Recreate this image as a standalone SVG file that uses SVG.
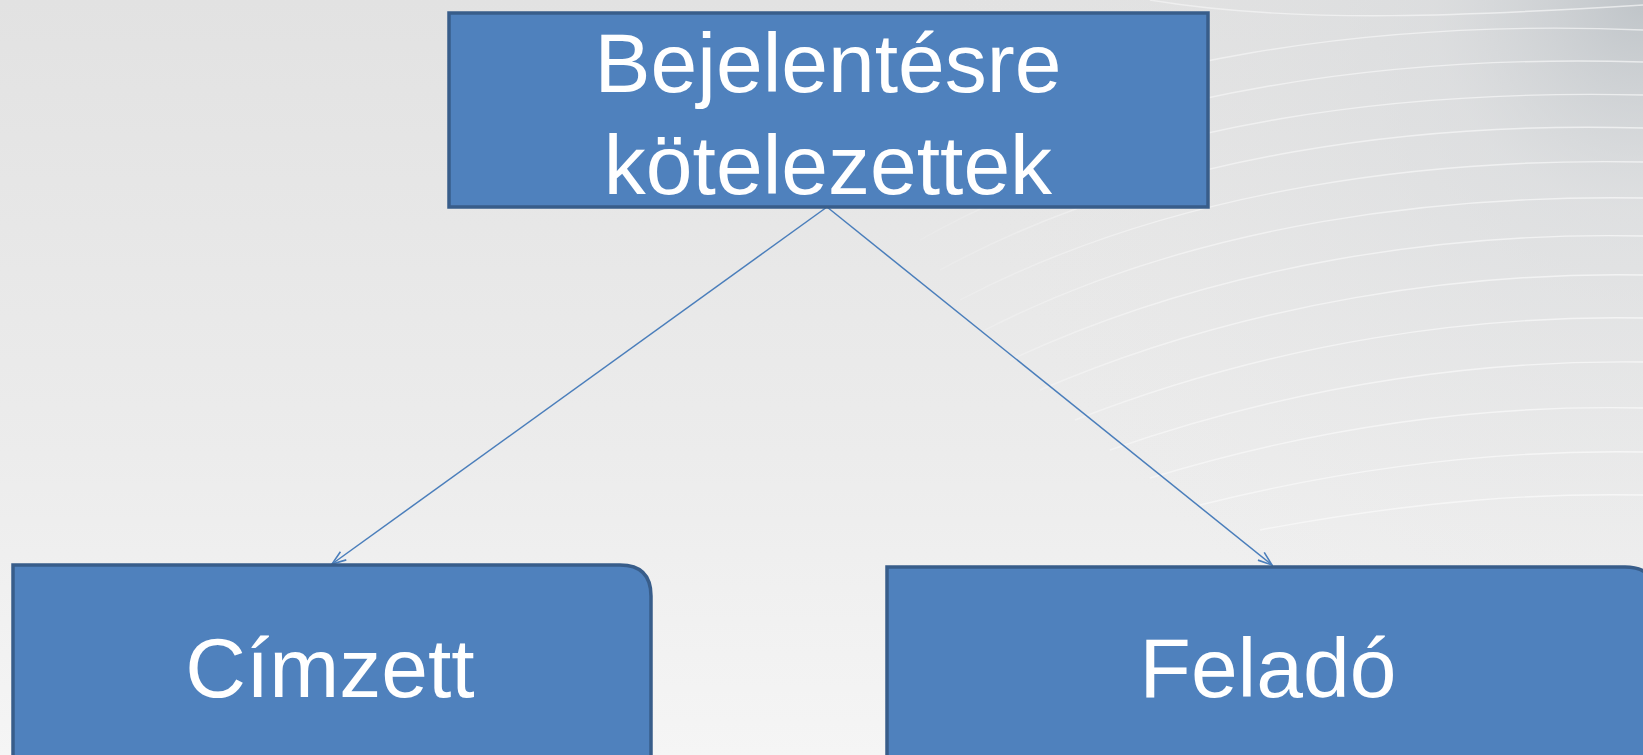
<svg xmlns="http://www.w3.org/2000/svg" width="1643" height="755" viewBox="0 0 1643 755">
<style>
.box{fill:#4f81bd;stroke:#385d8a;stroke-width:3.5}
.lbl{fill:#ffffff;font-family:"Liberation Sans",Arial,sans-serif;font-size:84px;text-anchor:middle}
.conn{fill:none;stroke:#4a7ebb;stroke-width:1.5}
.swirl{fill:none;stroke:url(#swirlfade);stroke-width:1.4}
</style>
<defs>
<linearGradient id="bg" x1="0" y1="0" x2="0" y2="1">
<stop offset="0" stop-color="#e2e2e2"/>
<stop offset="0.6" stop-color="#ececec"/>
<stop offset="1" stop-color="#f5f5f5"/>
</linearGradient>
<radialGradient id="corner" cx="1643" cy="0" r="700" gradientUnits="userSpaceOnUse">
<stop offset="0" stop-color="#b9bfc4" stop-opacity="0.85"/>
<stop offset="0.3" stop-color="#d4d7da" stop-opacity="0.45"/>
<stop offset="1" stop-color="#e6e6e6" stop-opacity="0"/>
</radialGradient>
<linearGradient id="swirlfade" x1="850" y1="0" x2="1643" y2="0" gradientUnits="userSpaceOnUse">
<stop offset="0" stop-color="#ffffff" stop-opacity="0"/>
<stop offset="0.4" stop-color="#ffffff" stop-opacity="0.45"/>
<stop offset="1" stop-color="#ffffff" stop-opacity="0.6"/>
</linearGradient>
<marker id="arr" viewBox="0 0 16 12" refX="15" refY="6" markerWidth="16" markerHeight="12" markerUnits="userSpaceOnUse" orient="auto">
<path d="M1,1 L15,6 L1,11" fill="none" stroke="#4a7ebb" stroke-width="1.6"/>
</marker>
</defs>
<rect x="0" y="0" width="1643" height="755" fill="url(#bg)"/>
<rect x="0" y="0" width="1643" height="755" fill="url(#corner)"/>
<g id="background-swirls">
<path class="swirl" d="M880,180 C1100,50 1400,20 1643,30"/>
<path class="swirl" d="M900,210 C1120,85 1410,55 1643,62"/>
<path class="swirl" d="M920,240 C1140,115 1420,90 1643,95"/>
<path class="swirl" d="M940,270 C1160,150 1430,122 1643,128"/>
<path class="swirl" d="M960,300 C1180,185 1440,158 1643,162"/>
<path class="swirl" d="M985,330 C1200,220 1450,195 1643,198"/>
<path class="swirl" d="M1010,360 C1225,260 1460,232 1643,236"/>
<path class="swirl" d="M1040,390 C1250,300 1470,272 1643,275"/>
<path class="swirl" d="M1075,420 C1280,340 1480,315 1643,318"/>
<path class="swirl" d="M1110,450 C1310,380 1495,360 1643,362"/>
<path class="swirl" d="M1150,478 C1340,420 1510,405 1643,408"/>
<path class="swirl" d="M1200,505 C1380,460 1525,450 1643,452"/>
<path class="swirl" d="M1260,530 C1420,500 1540,493 1643,495"/>
<path class="swirl" d="M1150,0 C1300,25 1480,15 1643,5"/>
</g>
<g id="connectors">
<line class="conn" x1="827" y1="207" x2="332" y2="564" marker-end="url(#arr)"/>
<line class="conn" x1="827" y1="207" x2="1272" y2="565" marker-end="url(#arr)"/>
</g>
<g id="node-top">
<rect class="box" x="449" y="13" width="759" height="194"/>
<text class="lbl" x="828" y="92">Bejelentésre</text>
<text class="lbl" x="828" y="194">kötelezettek</text>
</g>
<g id="node-cimzett">
<path class="box" d="M13,565 L620,565 Q651,565 651,596 L651,770 L13,770 Z"/>
<text class="lbl" x="330" y="697">Címzett</text>
</g>
<g id="node-felado">
<path class="box" d="M887,567 L1625,567 Q1656,567 1656,598 L1656,770 L887,770 Z"/>
<text class="lbl" x="1268" y="697">Feladó</text>
</g>
</svg>
